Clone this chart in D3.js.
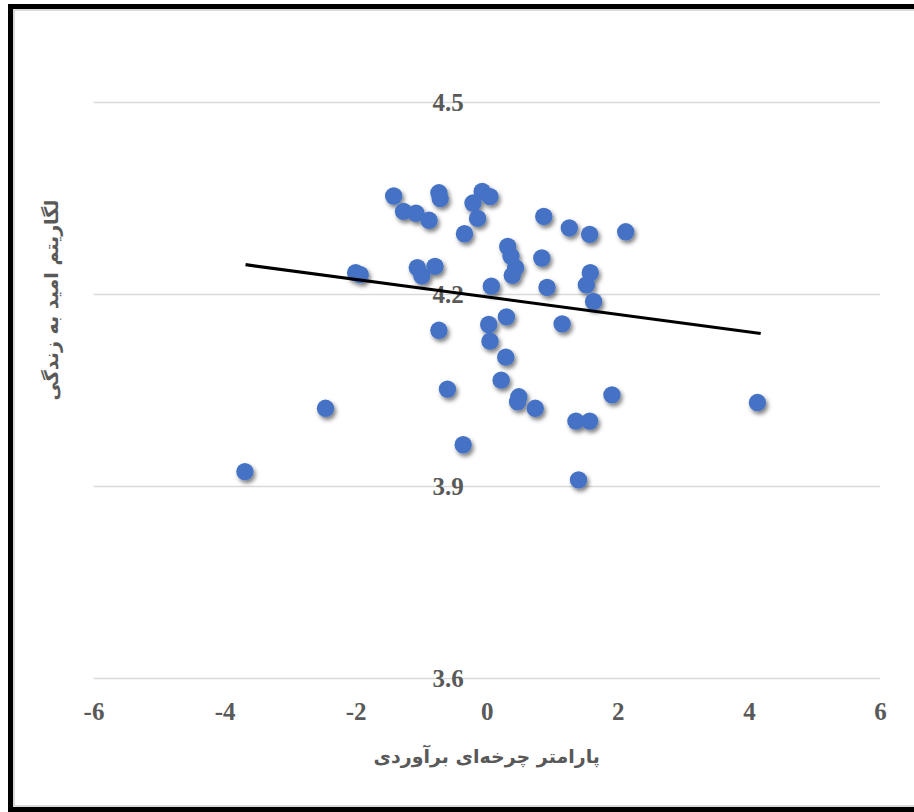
<!DOCTYPE html>
<html>
<head>
<meta charset="utf-8">
<script src="https://cdn.jsdelivr.net/npm/d3@7"></script>
<style>
	body { margin: 0; background: #fff; }
	svg { display: block; }
	.tick-label { font-family: "Liberation Serif", "Times New Roman", serif; font-weight: bold; font-size: 25px; fill: #595959; }
	.title { font-family: "DejaVu Sans", sans-serif; font-weight: bold; font-size: 19px; fill: #595959; }
</style>
</head>
<body>
<script>
// parameter values (x) and log life expectancy (y)
const xValues = [-1.42, -0.73, -0.71, -0.07, 0.05, -0.21, -1.27, -1.08, -0.88, -0.14,
	0.87, 1.26, 1.57, 2.12, -0.34, 0.32, 0.37, 0.44, 0.39, 0.84,
	-2.0, -1.93, -1.06, -0.99, -0.79, 0.07, 0.92, 1.58, 1.52, 1.63,
	-0.73, 0.03, 0.30, 1.15, 0.05, 0.29, 0.22, -0.60, 0.49, 0.47,
	0.74, 1.91, 1.36, 1.57, 4.13, -2.46, -0.36, -3.69, 1.40];
const yValues = [4.353, 4.358, 4.349, 4.360, 4.352, 4.342, 4.329, 4.326, 4.315, 4.318,
	4.321, 4.303, 4.293, 4.297, 4.294, 4.274, 4.259, 4.241, 4.229, 4.256,
	4.233, 4.230, 4.241, 4.228, 4.243, 4.212, 4.210, 4.233, 4.214, 4.188,
	4.143, 4.152, 4.164, 4.153, 4.126, 4.101, 4.065, 4.051, 4.039, 4.031,
	4.021, 4.042, 4.001, 4.001, 4.030, 4.021, 3.964, 3.922, 3.909];

// linear trend line
const trendSlope = -0.0137;
const trendIntercept = 4.1952;
const trendRange = [-3.68, 4.18];

const xTicks = [-6, -4, -2, 0, 2, 4, 6];
const yTicks = [3.6, 3.9, 4.2, 4.5];

const xTitle = "پارامتر چرخه\u200cای برآوردی";
const yTitle = "لگاریتم امید به زندگی";

const width = 914, height = 812;

let svg = d3.select("body").append("svg")
	.attr("width", width)
	.attr("height", height);

let defs = svg.append("defs");
let shadow = defs.append("filter")
	.attr("id", "shadow")
	.attr("x", "-50%").attr("y", "-50%")
	.attr("width", "200%").attr("height", "200%");
shadow.append("feDropShadow")
	.attr("dx", 2).attr("dy", 3)
	.attr("stdDeviation", 2)
	.attr("flood-color", "#000")
	.attr("flood-opacity", 0.5);

//frame
svg.append("rect")
	.attr("x", 10.5).attr("y", 6.5)
	.attr("width", 1000).attr("height", 803)
	.attr("fill", "none")
	.attr("stroke", "#000")
	.attr("stroke-width", 5);
svg.append("rect")
	.attr("x", 14).attr("y", 10)
	.attr("width", 1000).attr("height", 796)
	.attr("fill", "none")
	.attr("stroke", "#d9d9d9")
	.attr("stroke-width", 2);

let x = d3.scaleLinear().domain([-6, 6]).range([93.5, 880]);
let y = d3.scaleLinear().domain([3.6, 4.5]).range([677.5, 102]);

//gridlines
svg.append("g")
	.selectAll("line")
	.data(yTicks)
	.enter().append("line")
	.attr("x1", x(-6))
	.attr("x2", x(6))
	.attr("y1", d => Math.round(y(d)) + 0.5)
	.attr("y2", d => Math.round(y(d)) + 0.5)
	.attr("stroke", "#d9d9d9")
	.attr("stroke-width", 1.3);

//y labels next to the axis at x = 0
let yAxis = d3.axisLeft(y).tickValues(yTicks).tickFormat(d3.format(".1f")).tickSize(0).tickPadding(23);
let gy = svg.append("g")
	.attr("transform", `translate(${x(0)},0)`)
	.call(yAxis);
gy.select(".domain").remove();
gy.selectAll("text")
	.attr("class", "tick-label")
	.attr("dy", "0.34em");

//x labels
let xAxis = d3.axisBottom(x).tickValues(xTicks).tickFormat(d3.format("d")).tickSize(0).tickPadding(0);
let gx = svg.append("g")
	.attr("transform", "translate(0,711)")
	.call(xAxis);
gx.select(".domain").remove();
gx.selectAll("text")
	.attr("class", "tick-label")
	.attr("dy", "0.34em");
gx.selectAll("text").text(d => d < 0 ? "-" + Math.abs(d) : d);

//points
let points = xValues.map((v, i) => ({ x: v, y: yValues[i] }));
svg.append("g")
	.attr("filter", "url(#shadow)")
	.selectAll("circle")
	.data(points)
	.enter().append("circle")
	.attr("cx", d => x(d.x))
	.attr("cy", d => y(d.y))
	.attr("r", 8.7)
	.attr("fill", "#4472c4");

//trend line
svg.append("line")
	.attr("x1", x(trendRange[0]))
	.attr("y1", y(trendIntercept + trendSlope * trendRange[0]))
	.attr("x2", x(trendRange[1]))
	.attr("y2", y(trendIntercept + trendSlope * trendRange[1]))
	.attr("stroke", "#000")
	.attr("stroke-width", 3.2);

//titles
svg.append("text")
	.attr("class", "title")
	.attr("x", x(0))
	.attr("y", 757)
	.attr("dy", "0.3em")
	.attr("text-anchor", "middle")
	.text(xTitle);

svg.append("text")
	.attr("class", "title")
	.attr("transform", "translate(52,300) rotate(-90)")
	.attr("dy", "0.3em")
	.attr("text-anchor", "middle")
	.text(yTitle);
</script>
</body>
</html>
